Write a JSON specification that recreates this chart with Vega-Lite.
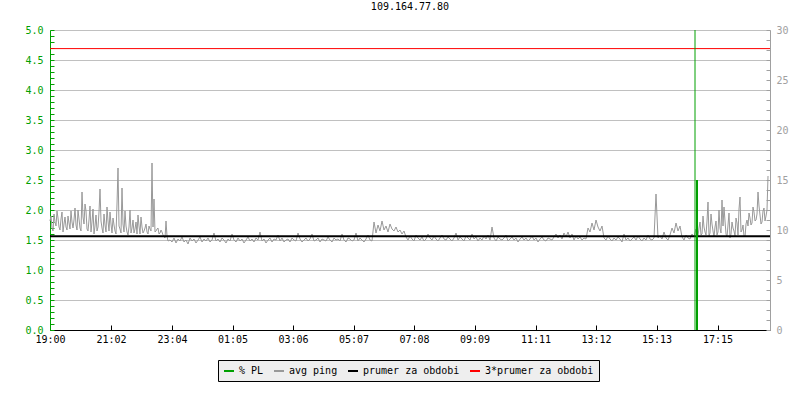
{
  "$schema": "https://vega.github.io/schema/vega-lite/v6.json",
  "width": 720,
  "height": 300,
  "autosize": {"type": "none"},
  "padding": {"left": 50, "top": 30, "right": 30, "bottom": 70},
  "background": "#ffffff",
  "title": {"text": "109.164.77.80", "font": "DejaVu Sans Mono", "fontSize": 10, "fontWeight": "normal", "color": "#000000", "anchor": "middle", "frame": "group", "offset": 13},
  "config": {"view": {"stroke": null}, "axis": {"labelFont": "DejaVu Sans Mono", "labelFontSize": 10, "title": null}},
  "resolve": {"scale": {"y": "independent"}},
  "layer": [
    {
      "encoding": {
        "y": {"field": "p", "type": "quantitative",
          "scale": {"domain": [0, 30], "nice": false, "zero": true},
          "axis": {"orient": "right",
            "values": [0,1,2,3,4,5,6,7,8,9,10,11,12,13,14,15,16,17,18,19,20,21,22,23,24,25,26,27,28,29,30],
            "labelExpr": "datum.value % 5 == 0 ? '' + datum.value : ''",
            "grid": false, "domainColor": "#a0a0a0", "tickColor": "#a0a0a0", "tickSize": -4,
            "labelPadding": 10, "labelColor": "#a0a0a0", "labelOverlap": false, "labelFlush": false, "title": null}}
      },
      "layer": [
        {
          "data": {"values": [
            {"t":0,"p":10.9},{"t":4,"p":10.2},{"t":8,"p":11.6},{"t":12,"p":10.4},{"t":16,"p":11.2},{"t":20,"p":10.0},{"t":24,"p":11.8},{"t":28,"p":10.6},{"t":32,"p":10.3},{"t":36,"p":11.4},
            {"t":40,"p":10.1},{"t":44,"p":10.8},{"t":48,"p":11.0},{"t":52,"p":10.5},{"t":56,"p":12.0},{"t":60,"p":10.2},{"t":64,"p":13.8},{"t":68,"p":10.6},{"t":72,"p":11.9},{"t":76,"p":9.9},
            {"t":80,"p":12.4},{"t":84,"p":10.8},{"t":88,"p":9.6},{"t":92,"p":11.5},{"t":96,"p":10.3},{"t":100,"p":14.1},{"t":104,"p":10.2},{"t":108,"p":11.6},{"t":112,"p":9.8},{"t":116,"p":10.9},
            {"t":120,"p":11.8},{"t":124,"p":9.7},{"t":128,"p":10.5},{"t":132,"p":9.6},{"t":136,"p":16.2},{"t":140,"p":10.1},{"t":144,"p":14.2},{"t":148,"p":9.8},{"t":152,"p":10.4},{"t":156,"p":9.5},
            {"t":160,"p":12.0},{"t":164,"p":10.2},{"t":168,"p":9.7},{"t":172,"p":10.8},{"t":176,"p":11.5},{"t":180,"p":9.6},{"t":184,"p":10.3},{"t":188,"p":9.9},{"t":192,"p":10.6},{"t":196,"p":9.6},
            {"t":200,"p":10.1},{"t":204,"p":16.7},{"t":208,"p":13.1},{"t":212,"p":9.9},{"t":216,"p":10.2},{"t":220,"p":9.7},{"t":224,"p":9.8},{"t":228,"p":9.3},{"t":232,"p":10.9},{"t":236,"p":8.9},
            {"t":2,"p":11.4},{"t":6,"p":9.9},{"t":10,"p":10.8},{"t":14,"p":11.9},{"t":18,"p":10.3},{"t":22,"p":11.1},{"t":26,"p":9.8},{"t":30,"p":11.3},{"t":34,"p":10.0},{"t":38,"p":10.7},
            {"t":42,"p":11.9},{"t":46,"p":10.2},{"t":50,"p":12.2},{"t":54,"p":10.0},{"t":58,"p":11.1},{"t":62,"p":9.9},{"t":66,"p":11.3},{"t":70,"p":12.6},{"t":74,"p":10.1},{"t":78,"p":11.0},
            {"t":82,"p":9.8},{"t":86,"p":12.1},{"t":90,"p":10.4},{"t":94,"p":9.9},{"t":98,"p":11.8},{"t":102,"p":10.9},{"t":106,"p":9.7},{"t":110,"p":10.5},{"t":114,"p":12.3},{"t":118,"p":9.9},
            {"t":122,"p":10.6},{"t":126,"p":11.2},{"t":130,"p":9.9},{"t":134,"p":12.6},{"t":138,"p":10.4},{"t":142,"p":9.7},{"t":146,"p":10.6},{"t":150,"p":11.9},{"t":154,"p":9.8},{"t":158,"p":10.3},
            {"t":162,"p":9.7},{"t":166,"p":11.0},{"t":170,"p":10.1},{"t":174,"p":9.6},{"t":178,"p":10.4},{"t":182,"p":11.3},{"t":186,"p":9.7},{"t":190,"p":10.2},{"t":194,"p":9.8},{"t":198,"p":10.4},
            {"t":202,"p":9.9},{"t":206,"p":10.3},{"t":210,"p":9.8},{"t":214,"p":10.1},{"t":218,"p":9.6},{"t":222,"p":10.0},{"t":226,"p":9.5},{"t":230,"p":9.2},{"t":234,"p":9.4},
            {"t":240,"p":9.0},{"t":244,"p":8.8},{"t":248,"p":9.2},{"t":252,"p":8.7},{"t":256,"p":9.1},{"t":260,"p":8.9},{"t":264,"p":9.3},{"t":268,"p":8.8},{"t":272,"p":9.0},{"t":276,"p":8.6},
            {"t":280,"p":9.2},{"t":284,"p":8.9},{"t":288,"p":9.1},{"t":292,"p":8.7},{"t":296,"p":9.0},{"t":300,"p":9.3},{"t":304,"p":8.8},{"t":308,"p":9.1},{"t":312,"p":8.9},{"t":316,"p":9.2},
            {"t":320,"p":8.8},{"t":324,"p":9.0},{"t":328,"p":9.7},{"t":332,"p":8.9},{"t":336,"p":9.1},{"t":340,"p":8.8},{"t":344,"p":9.2},{"t":348,"p":9.0},{"t":352,"p":8.7},{"t":356,"p":9.1},
            {"t":360,"p":8.9},{"t":364,"p":9.6},{"t":368,"p":9.0},{"t":372,"p":8.8},{"t":376,"p":9.2},{"t":380,"p":8.9},{"t":384,"p":9.1},{"t":388,"p":8.7},{"t":392,"p":9.0},{"t":396,"p":9.3},
            {"t":400,"p":8.9},{"t":404,"p":9.1},{"t":408,"p":8.8},{"t":412,"p":9.2},{"t":416,"p":9.0},{"t":420,"p":9.8},{"t":424,"p":8.9},{"t":428,"p":9.1},{"t":432,"p":8.7},{"t":436,"p":9.0},
            {"t":440,"p":9.2},{"t":444,"p":8.8},{"t":448,"p":9.1},{"t":452,"p":9.0},{"t":456,"p":9.5},{"t":460,"p":8.9},{"t":464,"p":9.2},{"t":468,"p":8.8},{"t":472,"p":9.0},{"t":476,"p":9.1},
            {"t":480,"p":8.8},{"t":484,"p":9.2},{"t":488,"p":9.0},{"t":492,"p":8.9},{"t":496,"p":9.7},{"t":500,"p":9.1},{"t":504,"p":8.8},{"t":508,"p":9.0},{"t":512,"p":9.2},{"t":516,"p":8.9},
            {"t":520,"p":9.1},{"t":524,"p":9.6},{"t":528,"p":8.9},{"t":532,"p":9.0},{"t":536,"p":9.2},{"t":540,"p":8.8},{"t":544,"p":9.1},{"t":548,"p":9.0},{"t":552,"p":8.9},{"t":556,"p":9.3},
            {"t":560,"p":9.0},{"t":564,"p":8.8},{"t":568,"p":9.2},{"t":572,"p":9.0},{"t":576,"p":9.1},{"t":580,"p":8.9},{"t":584,"p":9.6},{"t":588,"p":9.0},{"t":592,"p":8.8},{"t":596,"p":9.2},
            {"t":600,"p":9.1},{"t":604,"p":8.9},{"t":608,"p":9.0},{"t":612,"p":9.7},{"t":616,"p":8.9},{"t":620,"p":9.2},{"t":624,"p":9.0},{"t":628,"p":8.8},{"t":632,"p":9.1},{"t":636,"p":9.5},
            {"t":640,"p":9.0},{"t":644,"p":8.9},{"t":648,"p":10.8},{"t":652,"p":9.7},{"t":656,"p":10.5},{"t":660,"p":9.9},{"t":664,"p":10.9},{"t":668,"p":10.0},{"t":672,"p":10.4},{"t":676,"p":9.8},
            {"t":680,"p":10.6},{"t":684,"p":10.1},{"t":688,"p":9.9},{"t":692,"p":10.3},{"t":696,"p":9.8},{"t":700,"p":10.0},{"t":704,"p":9.6},{"t":708,"p":9.9},{"t":712,"p":9.3},{"t":716,"p":9.0},
            {"t":720,"p":9.4},{"t":724,"p":9.1},{"t":728,"p":8.9},{"t":732,"p":9.5},{"t":736,"p":9.2},{"t":740,"p":9.0},{"t":744,"p":9.3},{"t":748,"p":8.9},{"t":752,"p":9.1},{"t":756,"p":9.6},
            {"t":760,"p":9.2},{"t":764,"p":9.0},{"t":768,"p":9.4},{"t":772,"p":9.1},{"t":776,"p":8.9},{"t":780,"p":9.2},{"t":784,"p":9.5},{"t":788,"p":9.1},{"t":792,"p":9.0},{"t":796,"p":9.3},
            {"t":800,"p":9.1},{"t":804,"p":8.9},{"t":808,"p":9.2},{"t":812,"p":9.7},{"t":816,"p":9.0},{"t":820,"p":9.3},{"t":824,"p":9.1},{"t":828,"p":8.9},{"t":832,"p":9.4},{"t":836,"p":9.2},
            {"t":840,"p":9.0},{"t":844,"p":9.6},{"t":848,"p":9.1},{"t":852,"p":9.3},{"t":856,"p":8.9},{"t":860,"p":9.2},{"t":864,"p":9.0},{"t":868,"p":9.4},{"t":872,"p":9.1},{"t":876,"p":9.5},
            {"t":880,"p":9.0},{"t":884,"p":10.3},{"t":888,"p":9.2},{"t":892,"p":8.9},{"t":896,"p":9.3},{"t":900,"p":9.1},{"t":904,"p":9.0},{"t":908,"p":9.2},{"t":912,"p":9.5},{"t":916,"p":8.9},
            {"t":920,"p":9.1},{"t":924,"p":9.3},{"t":928,"p":9.0},{"t":932,"p":9.2},{"t":936,"p":8.8},{"t":940,"p":9.1},{"t":944,"p":9.3},{"t":948,"p":9.0},{"t":952,"p":9.2},{"t":956,"p":8.9},
            {"t":960,"p":9.1},{"t":964,"p":9.4},{"t":968,"p":9.0},{"t":972,"p":9.2},{"t":976,"p":8.8},{"t":980,"p":9.1},{"t":984,"p":9.3},{"t":988,"p":9.0},{"t":992,"p":8.9},{"t":996,"p":9.2},
            {"t":1000,"p":9.1},{"t":1004,"p":9.0},{"t":1008,"p":9.3},{"t":1012,"p":9.6},{"t":1016,"p":9.2},{"t":1020,"p":9.5},{"t":1024,"p":9.1},{"t":1028,"p":9.7},{"t":1032,"p":9.3},{"t":1036,"p":9.8},
            {"t":1040,"p":9.2},{"t":1044,"p":9.6},{"t":1048,"p":9.0},{"t":1052,"p":9.4},{"t":1056,"p":9.1},{"t":1060,"p":9.3},{"t":1064,"p":9.0},{"t":1068,"p":9.2},{"t":1072,"p":9.1},{"t":1076,"p":10.2},
            {"t":1080,"p":9.8},{"t":1084,"p":10.7},{"t":1088,"p":10.0},{"t":1092,"p":11.0},{"t":1096,"p":10.3},{"t":1100,"p":9.9},{"t":1104,"p":10.4},{"t":1108,"p":9.2},{"t":1112,"p":9.0},{"t":1116,"p":9.4},
            {"t":1120,"p":9.1},{"t":1124,"p":8.9},{"t":1128,"p":9.2},{"t":1132,"p":9.0},{"t":1136,"p":9.3},{"t":1140,"p":9.1},{"t":1144,"p":8.8},{"t":1148,"p":9.6},{"t":1152,"p":9.0},{"t":1156,"p":9.2},
            {"t":1160,"p":8.9},{"t":1164,"p":9.1},{"t":1168,"p":9.3},{"t":1172,"p":9.0},{"t":1176,"p":9.4},{"t":1180,"p":9.1},{"t":1184,"p":8.9},{"t":1188,"p":9.2},{"t":1192,"p":9.0},{"t":1196,"p":9.5},
            {"t":1200,"p":9.1},{"t":1204,"p":9.0},{"t":1208,"p":9.2},{"t":1212,"p":13.6},{"t":1216,"p":9.2},{"t":1220,"p":9.4},{"t":1224,"p":9.1},{"t":1228,"p":9.8},{"t":1232,"p":9.2},{"t":1236,"p":9.0},
            {"t":1240,"p":9.5},{"t":1244,"p":10.2},{"t":1248,"p":9.7},{"t":1252,"p":10.7},{"t":1256,"p":9.9},{"t":1260,"p":10.4},{"t":1264,"p":9.3},{"t":1268,"p":9.0},{"t":1272,"p":9.5},{"t":1276,"p":9.2},
            {"t":1280,"p":9.1},{"t":1284,"p":9.6},{"t":1288,"p":9.3},{"t":1292,"p":10.1},{"t":1296,"p":9.4},{"t":1300,"p":10.8},{"t":1304,"p":9.6},{"t":1308,"p":10.3},{"t":1312,"p":9.5},{"t":1316,"p":12.8},
            {"t":1320,"p":9.7},{"t":1324,"p":10.6},{"t":1328,"p":9.3},{"t":1332,"p":10.9},{"t":1336,"p":9.8},{"t":1340,"p":10.2},{"t":1344,"p":13.0},{"t":1348,"p":12.3},{"t":1352,"p":9.6},{"t":1356,"p":10.5},
            {"t":1360,"p":9.2},{"t":1364,"p":10.8},{"t":1368,"p":9.9},{"t":1372,"p":11.2},{"t":1376,"p":9.5},{"t":1380,"p":13.3},{"t":1384,"p":10.0},{"t":1388,"p":9.4},{"t":1392,"p":10.6},{"t":1396,"p":10.4},
            {"t":1400,"p":11.2},{"t":1404,"p":10.7},{"t":1408,"p":11.8},{"t":1412,"p":11.0},{"t":1416,"p":13.8},{"t":1420,"p":11.5},{"t":1424,"p":10.8},{"t":1428,"p":12.2},{"t":1432,"p":11.4},{"t":1436,"p":15.4},
            {"t":1294,"p":9.3},{"t":1298,"p":10.2},{"t":1302,"p":9.5},{"t":1306,"p":11.4},{"t":1310,"p":9.8},{"t":1314,"p":10.9},{"t":1318,"p":9.4},{"t":1322,"p":11.6},{"t":1326,"p":9.9},{"t":1330,"p":10.3},
            {"t":1334,"p":9.5},{"t":1338,"p":12.0},{"t":1342,"p":9.7},{"t":1346,"p":10.4},{"t":1350,"p":10.9},{"t":1354,"p":9.3},{"t":1358,"p":11.7},{"t":1362,"p":9.6},{"t":1366,"p":10.2},{"t":1370,"p":9.4},
            {"t":1374,"p":10.7},{"t":1378,"p":12.1},{"t":1382,"p":9.8},{"t":1386,"p":10.5},{"t":1390,"p":9.3},{"t":1394,"p":11.0},{"t":1398,"p":11.7},{"t":1402,"p":10.5},{"t":1406,"p":12.3},{"t":1410,"p":10.9},
            {"t":1414,"p":11.6},{"t":1418,"p":12.4},{"t":1422,"p":10.6},{"t":1426,"p":11.9},{"t":1430,"p":10.9},{"t":1434,"p":12.0}
          ]},
          "mark": {"type": "line", "strokeWidth": 1, "interpolate": "linear"},
          "encoding": {
            "x": {"field": "t", "type": "quantitative",
              "scale": {"domain": [0, 1440], "nice": false, "zero": false},
              "axis": {"values": [0,122,244,365,486,607,728,849,971,1092,1213,1335],
                "labelExpr": "utcFormat((datum.value + 1140) * 60000, '%H:%M')",
                "grid": false, "domainColor": "#000000", "tickColor": "#000000", "tickSize": -5,
                "labelPadding": 9, "labelColor": "#000000", "labelFlush": false, "labelOverlap": false, "title": null}},
            "color": {"datum": "avg ping", "type": "nominal",
              "scale": {"domain": ["% PL", "avg ping", "prumer za obdobi", "3*prumer za obdobi"],
                        "range": ["#00a000", "#999999", "#000000", "#ff0000"]},
              "legend": {"title": null, "orient": "none", "legendX": 168, "legendY": 330,
                "direction": "horizontal", "columns": 4, "symbolType": "stroke", "symbolSize": 100,
                "symbolStrokeWidth": 2, "labelFont": "DejaVu Sans Mono", "labelFontSize": 10,
                "labelColor": "#000000", "fillColor": "#eeeeee", "strokeColor": "#000000",
                "padding": 5, "columnPadding": 6, "labelOffset": 4}}
          }
        },
        {
          "data": {"values": [{"series": "prumer za obdobi", "p": 9.38}]},
          "mark": {"type": "rule", "strokeWidth": 2},
          "encoding": {
            "color": {"datum": "prumer za obdobi", "type": "nominal"}
          }
        },
        {
          "data": {"values": [{"series": "3*prumer za obdobi", "p": 28.14}]},
          "mark": {"type": "rule", "strokeWidth": 1},
          "encoding": {
            "color": {"datum": "3*prumer za obdobi", "type": "nominal"}
          }
        }
      ]
    },
    {
      "data": {"values": [{"t": 1290, "pl": 100}, {"t": 1294, "pl": 2.5}]},
      "mark": {"type": "rule", "clip": true},
      "encoding": {
        "x": {"field": "t", "type": "quantitative", "scale": {"domain": [0, 1440], "nice": false, "zero": false}},
        "y": {"field": "pl", "type": "quantitative",
          "scale": {"domain": [0, 5], "nice": false, "zero": true},
          "axis": {"orient": "left",
            "values": [0,0.1,0.2,0.3,0.4,0.5,0.6,0.7,0.8,0.9,1,1.1,1.2,1.3,1.4,1.5,1.6,1.7,1.8,1.9,2,2.1,2.2,2.3,2.4,2.5,2.6,2.7,2.8,2.9,3,3.1,3.2,3.3,3.4,3.5,3.6,3.7,3.8,3.9,4,4.1,4.2,4.3,4.4,4.5,4.6,4.7,4.8,4.9,5],
            "labelExpr": "round(datum.value * 10) % 5 == 0 ? format(datum.value, '.1f') : ''",
            "grid": true, "gridColor": "#c0c0c0",
            "gridOpacity": {"condition": {"test": "round(datum.value * 10) % 5 == 0", "value": 1}, "value": 0},
            "domainColor": "#00a000", "tickColor": "#00a000", "tickSize": -4,
            "labelPadding": 11, "labelColor": "#00a000", "labelOverlap": false, "labelFlush": false, "title": null}},
        "y2": {"datum": 0},
        "color": {"datum": "% PL", "type": "nominal"},
        "strokeWidth": {"condition": {"test": "datum.pl < 5", "value": 2}, "value": 1}
      }
    }
  ]
}
